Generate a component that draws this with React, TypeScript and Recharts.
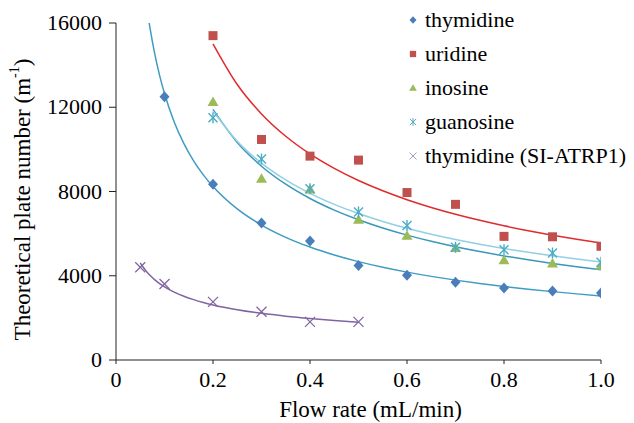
import React from "react";
import {
  ComposedChart,
  Scatter,
  Line,
  XAxis,
  YAxis,
  Label,
} from "recharts";

// flow rates (mL/min)
const flow = [0.1, 0.2, 0.3, 0.4, 0.5, 0.6, 0.7, 0.8, 0.9, 1.0];
const flowFrom02 = [0.2, 0.3, 0.4, 0.5, 0.6, 0.7, 0.8, 0.9, 1.0];
const flowAtrp = [0.05, 0.1, 0.2, 0.3, 0.4, 0.5];

// theoretical plate numbers (m-1)
const thymidine = [12500, 8350, 6500, 5650, 4490, 4020, 3690, 3420, 3280, 3185];
const uridine = [15400, 10470, 9680, 9490, 7950, 7390, 5870, 5850, 5400];
const inosine = [12250, 8600, 8100, 6660, 5900, 5320, 4730, 4580, 4480];
const guanosine = [11500, 9540, 8130, 7030, 6390, 5350, 5240, 5080, 4640];
const thymidineAtrp = [4400, 3610, 2760, 2290, 1810, 1810];

const xTicks = [0, 0.2, 0.4, 0.6, 0.8, 1.0];
const yTicks = [0, 4000, 8000, 12000, 16000];

// x positions where the power trendlines are evaluated
const fitGrid = [
  0.05, 0.055, 0.06, 0.065, 0.07, 0.08, 0.09, 0.1, 0.12, 0.14, 0.16, 0.18, 0.2,
  0.25, 0.3, 0.35, 0.4, 0.45, 0.5, 0.55, 0.6, 0.65, 0.7, 0.75, 0.8, 0.85, 0.9,
  0.95, 1.0,
];

const FONT = "Liberation Serif";

// least squares power fit y = a * x^b (same as a spreadsheet power trendline)
function powerFit(xs: number[], ys: number[]) {
  const n = xs.length;
  let sx = 0, sy = 0, sxx = 0, sxy = 0;
  for (let i = 0; i < n; i++) {
    const lx = Math.log(xs[i]);
    const ly = Math.log(ys[i]);
    sx += lx;
    sy += ly;
    sxx += lx * lx;
    sxy += lx * ly;
  }
  const b = (n * sxy - sx * sy) / (n * sxx - sx * sx);
  const a = Math.exp((sy - b * sx) / n);
  return (x: number) => a * Math.pow(x, b);
}

function points(xs: number[], ys: number[]) {
  return xs.map((x, i) => ({ x, y: ys[i] }));
}

function trend(xs: number[], ys: number[], from: number, to: number) {
  const f = powerFit(xs, ys);
  return fitGrid
    .filter((x) => x >= from - 1e-9 && x <= to + 1e-9)
    .map((x) => ({ x, y: f(x) }));
}

const Diamond = ({ cx, cy, fill }: any) => (
  <path d={`M${cx},${cy - 5.5}L${cx + 5},${cy}L${cx},${cy + 5.5}L${cx - 5},${cy}Z`} fill={fill} />
);
const Square = ({ cx, cy, fill }: any) => (
  <rect x={cx - 4.5} y={cy - 4.5} width={9} height={9} fill={fill} />
);
const Triangle = ({ cx, cy, fill }: any) => (
  <path d={`M${cx},${cy - 5.5}L${cx + 5.5},${cy + 4}L${cx - 5.5},${cy + 4}Z`} fill={fill} />
);
const Asterisk = ({ cx, cy, fill }: any) => (
  <g stroke={fill} strokeWidth={1.4}>
    <line x1={cx - 4.5} y1={cy - 4.5} x2={cx + 4.5} y2={cy + 4.5} />
    <line x1={cx - 4.5} y1={cy + 4.5} x2={cx + 4.5} y2={cy - 4.5} />
    <line x1={cx} y1={cy - 5.5} x2={cx} y2={cy + 5.5} />
  </g>
);
const Cross = ({ cx, cy, fill }: any) => (
  <g stroke={fill} strokeWidth={1.3}>
    <line x1={cx - 5} y1={cy - 5} x2={cx + 5} y2={cy + 5} />
    <line x1={cx - 5} y1={cy + 5} x2={cx + 5} y2={cy - 5} />
  </g>
);

const series = [
  { name: "thymidine", color: "#4a7ebb", shape: Diamond },
  { name: "uridine", color: "#c0504d", shape: Square },
  { name: "inosine", color: "#9bbb59", shape: Triangle },
  { name: "guanosine", color: "#4bacc6", shape: Asterisk },
  { name: "thymidine (SI-ATRP1)", color: "#9f8cc0", shape: Cross },
];

const YTitle = ({ viewBox }: any) => {
  const cy = viewBox.y + viewBox.height / 2 + 8;
  return (
    <text
      x={14}
      y={cy}
      transform={`rotate(-90, 14, ${cy})`}
      textAnchor="middle"
      dominantBaseline="central"
      fontFamily={FONT}
      fontSize={23}
      fill="#000"
    >
      Theoretical plate number (m
      <tspan baselineShift="super" fontSize={14}>-1</tspan>)
    </text>
  );
};

const XTick = ({ x, y, payload }: any) => (
  <text x={x} y={y} dy={16} textAnchor="middle" fontFamily={FONT} fontSize={22} fill="#000">
    {payload.value === 0 ? "0" : payload.value.toFixed(1)}
  </text>
);

const YTick = ({ x, y, payload }: any) => (
  <text x={x - 1} y={y} dy={7} textAnchor="end" fontFamily={FONT} fontSize={22} fill="#000">
    {payload.value}
  </text>
);

export default function App() {
  return (
    <div style={{ position: "relative", width: 626, height: 415, fontFamily: FONT }}>
      <ComposedChart
        width={626}
        height={415}
        margin={{ top: 15, right: 33, bottom: 0, left: 0 }}
      >
        <XAxis
          type="number"
          dataKey="x"
          domain={[0, 1]}
          ticks={xTicks}
          tick={<XTick />}
          tickSize={4}
          tickMargin={7}
          height={63}
          stroke="#222"
          allowDataOverflow
        >
          <Label
            value="Flow rate (mL/min)"
            position="insideBottom"
            offset={6}
            dx={12}
            style={{ fontFamily: FONT, fontSize: 23, fill: "#000" }}
          />
        </XAxis>
        <YAxis
          type="number"
          domain={[0, 16000]}
          ticks={yTicks}
          tick={<YTick />}
          tickSize={7}
          tickMargin={6}
          width={108}
          stroke="#222"
          allowDataOverflow
          label={<YTitle />}
        />

        <Line data={trend(flow, thymidine, 0.05, 1.0)} dataKey="y" type="monotone" stroke="#3f9cc2" strokeWidth={1.5} dot={false} isAnimationActive={false} />
        <Line data={trend(flowFrom02, uridine, 0.2, 1.0)} dataKey="y" type="monotone" stroke="#e02b2b" strokeWidth={1.5} dot={false} isAnimationActive={false} />
        <Line data={trend(flowFrom02, inosine, 0.2, 1.0)} dataKey="y" type="monotone" stroke="#3a97bb" strokeWidth={1.5} dot={false} isAnimationActive={false} />
        <Line data={trend(flowFrom02, guanosine, 0.2, 1.0)} dataKey="y" type="monotone" stroke="#92d0e2" strokeWidth={1.5} dot={false} isAnimationActive={false} />
        <Line data={trend(flowAtrp, thymidineAtrp, 0.05, 0.5)} dataKey="y" type="monotone" stroke="#8064a2" strokeWidth={1.5} dot={false} isAnimationActive={false} />

        <Scatter data={points(flow, thymidine)} dataKey="y" fill="#4a7ebb" shape={Diamond} isAnimationActive={false} />
        <Scatter data={points(flowFrom02, uridine)} dataKey="y" fill="#c0504d" shape={Square} isAnimationActive={false} />
        <Scatter data={points(flowFrom02, inosine)} dataKey="y" fill="#9bbb59" shape={Triangle} isAnimationActive={false} />
        <Scatter data={points(flowFrom02, guanosine)} dataKey="y" fill="#4bacc6" shape={Asterisk} isAnimationActive={false} />
        <Scatter data={points(flowAtrp, thymidineAtrp)} dataKey="y" fill="#8064a2" shape={Cross} isAnimationActive={false} />
      </ComposedChart>

      {/* legend */}
      <div style={{ position: "absolute", left: 398, top: -5, fontFamily: FONT, fontSize: 22, color: "#000" }}>
        {series.map((s) => {
          const Shape = s.shape;
          return (
            <div key={s.name} style={{ display: "flex", alignItems: "center", height: 34 }}>
              <svg width={14} height={14} style={{ marginRight: 5 }}>
                <g transform="translate(7,7) scale(0.7) translate(-7,-7)">
                  <Shape cx={7} cy={7} fill={s.color} />
                </g>
              </svg>
              <span>{s.name}</span>
            </div>
          );
        })}
      </div>
    </div>
  );
}
